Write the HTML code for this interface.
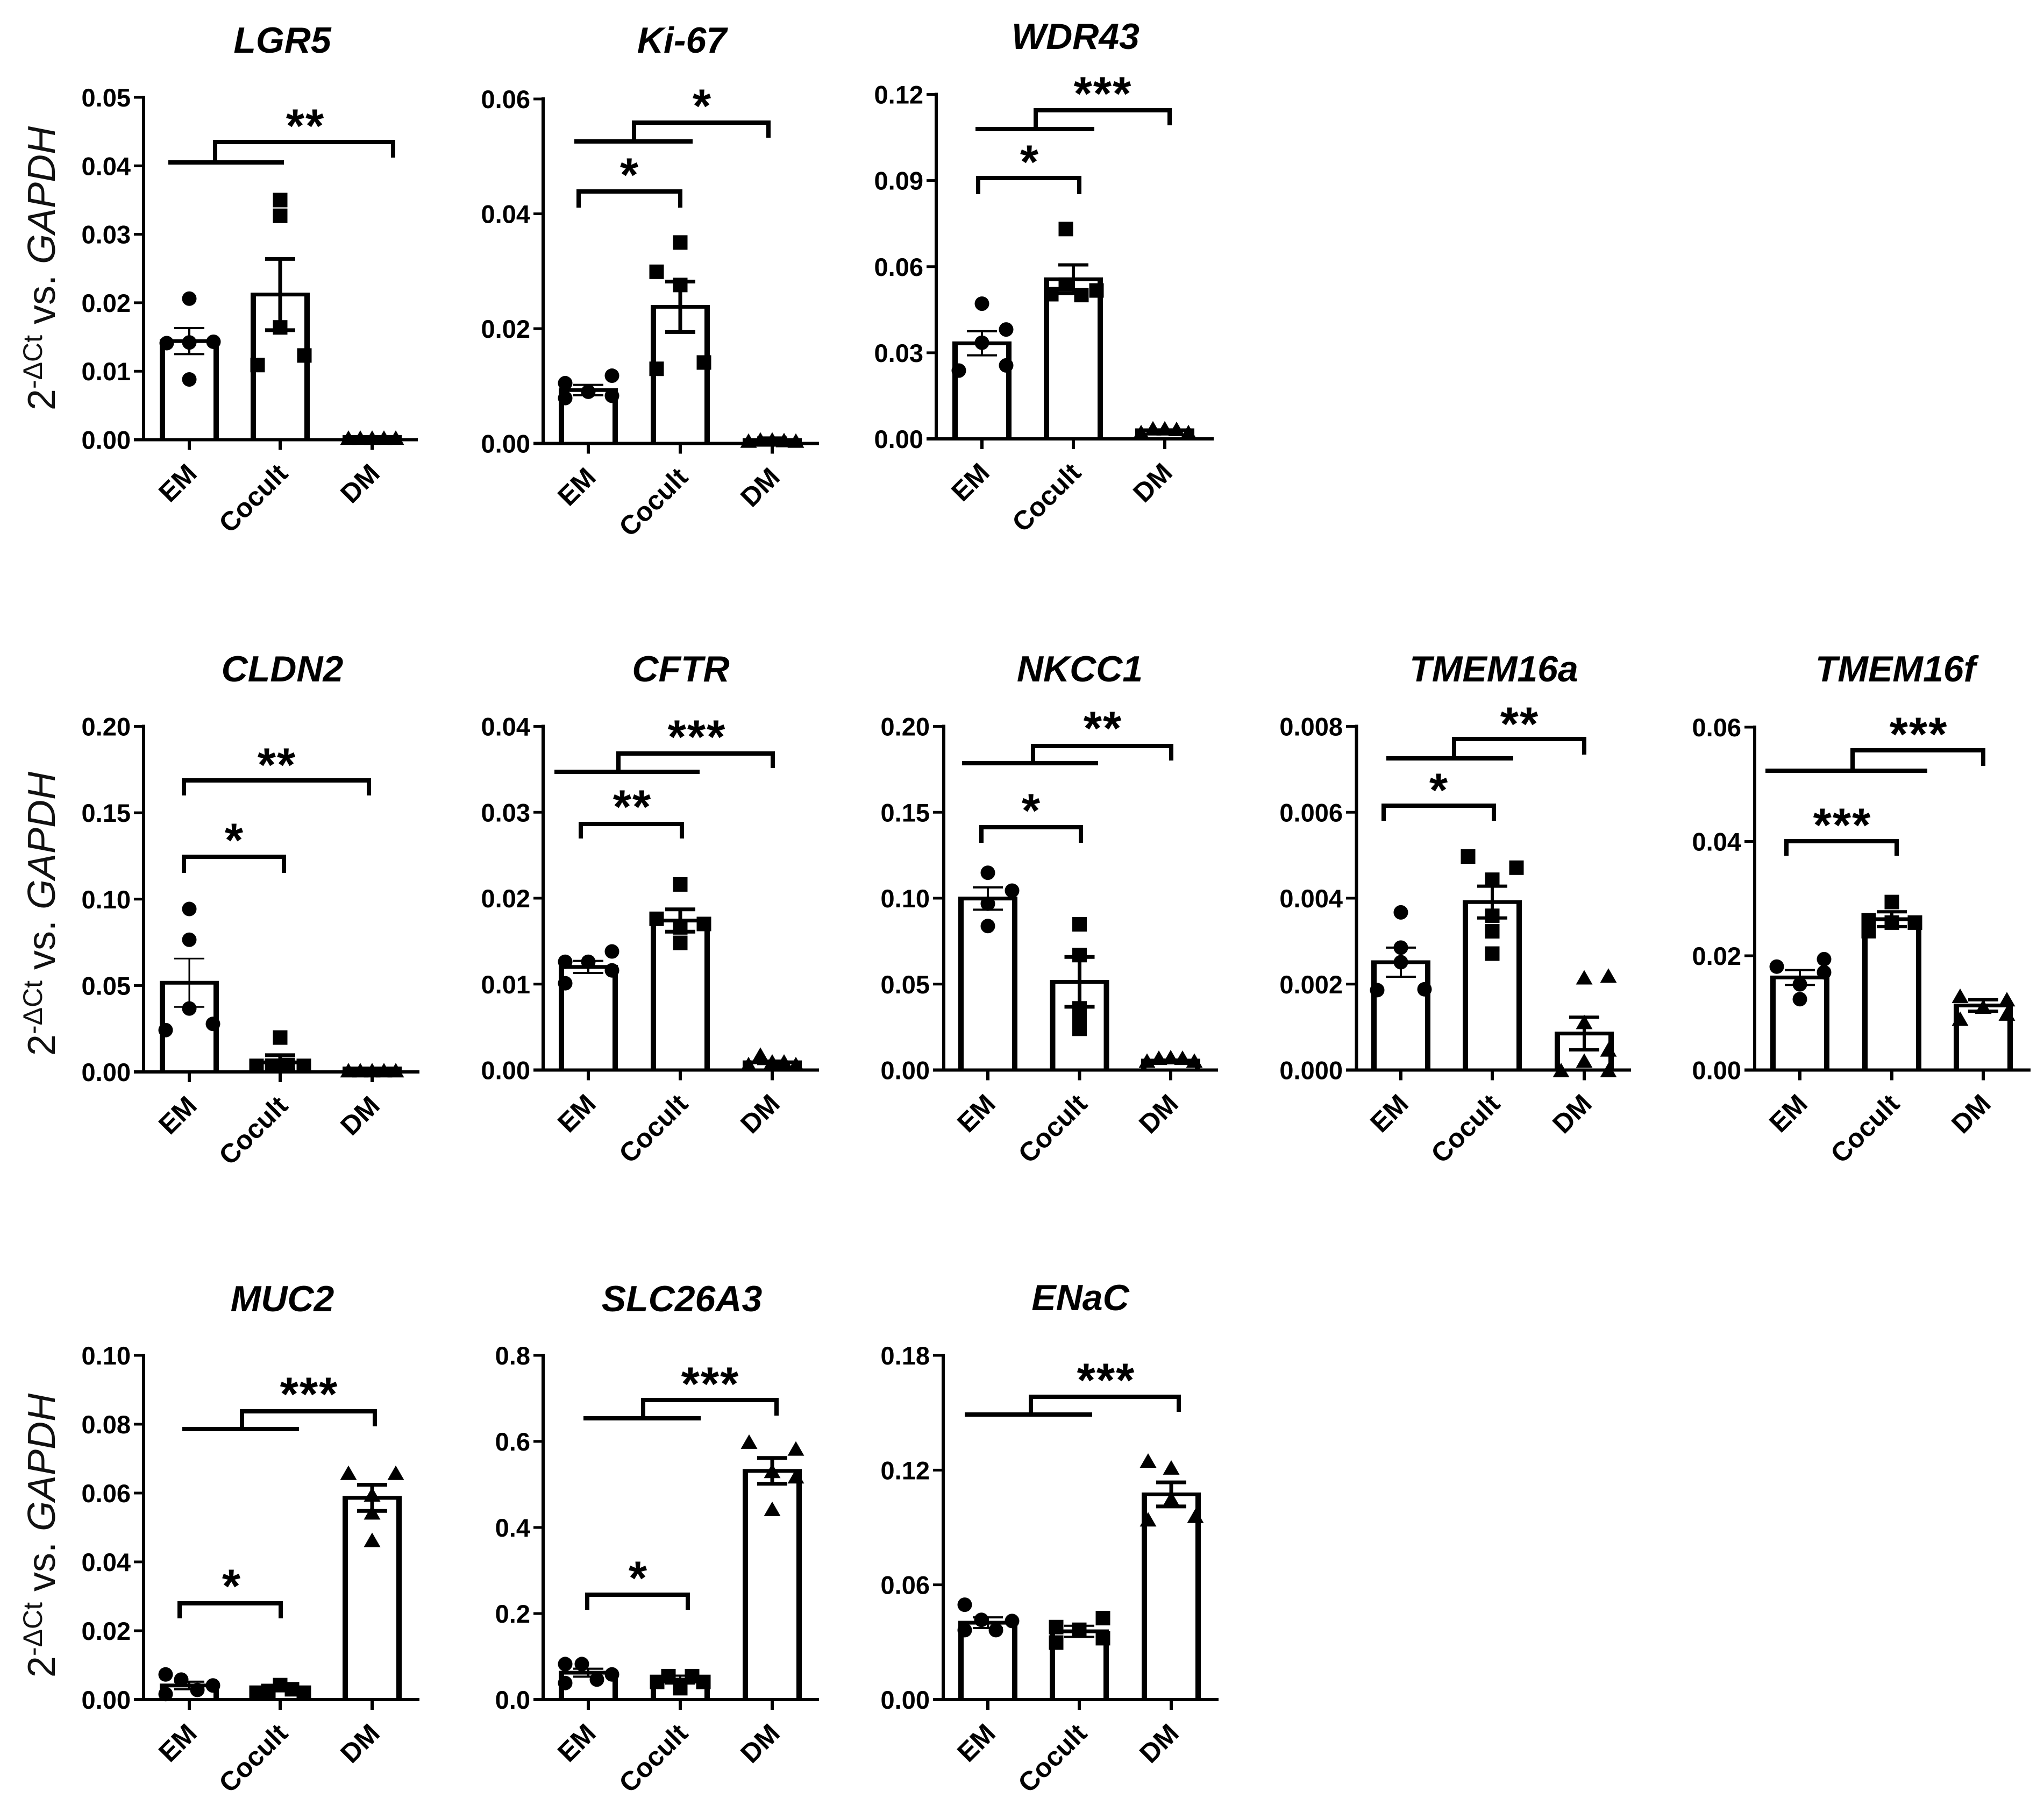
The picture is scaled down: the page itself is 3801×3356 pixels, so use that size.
<!DOCTYPE html>
<html lang="en">
<head>
<meta charset="utf-8">
<title>Gene expression panels</title>
<style>
html,body{margin:0;padding:0;background:#fff;}
svg{display:block;}
text{font-family:"Liberation Sans",sans-serif;fill:#000;}
.title{font-size:68px;font-weight:bold;font-style:italic;text-anchor:middle;}
.ytitle{font-size:72px;text-anchor:middle;fill:#111;}
.star{font-size:88px;font-weight:bold;text-anchor:middle;letter-spacing:2px;transform:translateY(-10px);}
.br{fill:none;stroke:#000;stroke-width:8;stroke-linejoin:miter;}
.tick-label{font-size:47px;font-weight:bold;text-anchor:end;}
.cat-label{font-size:50px;font-weight:bold;text-anchor:end;}
</style>
</head>
<body>
<svg id="figure" xmlns="http://www.w3.org/2000/svg" width="3801" height="3356" viewBox="0 0 3801 3356">
<rect width="3801" height="3356" fill="#fff"/>

<g>
<text class="title" x="525" y="98">LGR5</text>
<text class="title" x="1268" y="98">Ki-67</text>
<text class="title" x="2000" y="91">WDR43</text>
<text class="title" x="525" y="1267">CLDN2</text>
<text class="title" x="1266" y="1267">CFTR</text>
<text class="title" x="2008" y="1267">NKCC1</text>
<text class="title" x="2778" y="1267">TMEM16a</text>
<text class="title" x="3525" y="1267">TMEM16f</text>
<text class="title" x="525" y="2438">MUC2</text>
<text class="title" x="1268" y="2438">SLC26A3</text>
<text class="title" x="2009" y="2436">ENaC</text>
</g>

<g>
<text class="ytitle" transform="translate(102,499) rotate(-90)">2<tspan font-size="50" dy="-24">-ΔCt</tspan><tspan dy="24"> vs. </tspan><tspan font-style="italic">GAPDH</tspan></text>
<text class="ytitle" transform="translate(102,1699) rotate(-90)">2<tspan font-size="50" dy="-24">-ΔCt</tspan><tspan dy="24"> vs. </tspan><tspan font-style="italic">GAPDH</tspan></text>
<text class="ytitle" transform="translate(102,2855) rotate(-90)">2<tspan font-size="50" dy="-24">-ΔCt</tspan><tspan dy="24"> vs. </tspan><tspan font-style="italic">GAPDH</tspan></text>
</g>

<g id="charts"></g>

<g>
<g>
<line class="br" x1="313" y1="302" x2="528" y2="302"/>
<polyline class="br" points="400,302 400,264 731,264 731,293"/>
<text class="star" x="568" y="274">**</text>
</g>
<g>
<line class="br" x1="1068" y1="263" x2="1288" y2="263"/>
<polyline class="br" points="1179,263 1179,228 1429,228 1429,256"/>
<text class="star" x="1306" y="237">*</text>
<polyline class="br" points="1076,386 1076,356 1265,356 1265,386"/>
<text class="star" x="1171" y="365">*</text>
</g>
<g>
<line class="br" x1="1814" y1="240" x2="2035" y2="240"/>
<polyline class="br" points="1926,240 1926,205 2175,205 2175,233"/>
<text class="star" x="2051" y="214">***</text>
<polyline class="br" points="1819,361 1819,331 2007,331 2007,361"/>
<text class="star" x="1915" y="341">*</text>
</g>
<g>
<polyline class="br" points="342,1479 342,1451 686,1451 686,1479"/>
<text class="star" x="515" y="1462">**</text>
<polyline class="br" points="342,1623 342,1593 528,1593 528,1623"/>
<text class="star" x="436" y="1602">*</text>
</g>
<g>
<line class="br" x1="1031" y1="1435" x2="1301" y2="1435"/>
<polyline class="br" points="1150,1435 1150,1401 1437,1401 1437,1428"/>
<text class="star" x="1296" y="1410">***</text>
<polyline class="br" points="1080,1559 1080,1532 1268,1532 1268,1559"/>
<text class="star" x="1176" y="1540">**</text>
</g>
<g>
<line class="br" x1="1789" y1="1419" x2="2042" y2="1419"/>
<polyline class="br" points="1921,1419 1921,1387 2178,1387 2178,1414"/>
<text class="star" x="2051" y="1394">**</text>
<polyline class="br" points="1825,1567 1825,1538 2010,1538 2010,1567"/>
<text class="star" x="1918" y="1547">*</text>
</g>
<g>
<line class="br" x1="2578" y1="1410" x2="2814" y2="1410"/>
<polyline class="br" points="2704,1410 2704,1374 2946,1374 2946,1403"/>
<text class="star" x="2826" y="1386">**</text>
<polyline class="br" points="2573,1526 2573,1498 2778,1498 2778,1526"/>
<text class="star" x="2676" y="1509">*</text>
</g>
<g>
<line class="br" x1="3283" y1="1433" x2="3584" y2="1433"/>
<polyline class="br" points="3445,1433 3445,1395 3688,1395 3688,1424"/>
<text class="star" x="3568" y="1405">***</text>
<polyline class="br" points="3322,1591 3322,1564 3527,1564 3527,1591"/>
<text class="star" x="3426" y="1574">***</text>
</g>
<g>
<line class="br" x1="339" y1="2657" x2="556" y2="2657"/>
<polyline class="br" points="450,2657 450,2624 697,2624 697,2652"/>
<text class="star" x="575" y="2632">***</text>
<polyline class="br" points="334,3009 334,2981 522,2981 522,3009"/>
<text class="star" x="431" y="2989">*</text>
</g>
<g>
<line class="br" x1="1085" y1="2637" x2="1303" y2="2637"/>
<polyline class="br" points="1196,2637 1196,2603 1444,2603 1444,2632"/>
<text class="star" x="1321" y="2613">***</text>
<polyline class="br" points="1092,2993 1092,2965 1279,2965 1279,2993"/>
<text class="star" x="1187" y="2974">*</text>
</g>
<g>
<line class="br" x1="1794" y1="2630" x2="2031" y2="2630"/>
<polyline class="br" points="1917,2630 1917,2597 2192,2597 2192,2625"/>
<text class="star" x="2057" y="2606">***</text>
</g>
</g>
</svg>

<script>
const categories = ['EM', 'Cocult', 'DM'];

const lgr5Ticks = ['0.00', '0.01', '0.02', '0.03', '0.04', '0.05'];
const lgr5Means = [0.0144, 0.0212, 0.0004];
const lgr5Sems = [0.0019, 0.0052, 0.0001];
const lgr5Points = [[0.0206, 0.0143, 0.0142, 0.0141, 0.0088], [0.035, 0.0327, 0.0164, 0.0123, 0.0109], [0.0003, 0.0003, 0.0003, 0.0003, 0.0003]];

const ki67Ticks = ['0.00', '0.02', '0.04', '0.06'];
const ki67Means = [0.0093, 0.0238, 0.0006];
const ki67Sems = [0.0009, 0.0044, 0.0004];
const ki67Points = [[0.009, 0.0118, 0.0105, 0.0083, 0.0079], [0.035, 0.0299, 0.0276, 0.0141, 0.013], [0.0005, 0.0007, 0.0007, 0.0006, 0.0005]];

const wdr43Ticks = ['0.00', '0.03', '0.06', '0.09', '0.12'];
const wdr43Means = [0.0333, 0.0556, 0.003];
const wdr43Sems = [0.0042, 0.005, 0.0003];
const wdr43Points = [[0.0471, 0.0381, 0.0335, 0.0256, 0.0238], [0.0731, 0.0537, 0.0504, 0.0501, 0.0517], [0.0024, 0.0037, 0.0037, 0.0035, 0.0024]];

const cldn2Ticks = ['0.00', '0.05', '0.10', '0.15', '0.20'];
const cldn2Means = [0.0516, 0.0055, 0.002];
const cldn2Sems = [0.014, 0.0042, 0.0003];
const cldn2Points = [[0.0943, 0.0765, 0.0367, 0.0278, 0.0242], [0.0199, 0.0035, 0.0036, 0.004, 0.0035], [0.001, 0.001, 0.001, 0.001, 0.001]];

const cftrTicks = ['0.00', '0.01', '0.02', '0.03', '0.04'];
const cftrMeans = [0.012, 0.0174, 0.0009];
const cftrSems = [0.0007, 0.0013, 0.0002];
const cftrPoints = [[0.0126, 0.0138, 0.0126, 0.0116, 0.0101], [0.0216, 0.0176, 0.017, 0.0166, 0.0148], [0.0007, 0.0018, 0.001, 0.001, 0.0007]];

const nkcc1Ticks = ['0.00', '0.05', '0.10', '0.15', '0.20'];
const nkcc1Means = [0.0998, 0.0513, 0.0055];
const nkcc1Sems = [0.0065, 0.0145, 0.0006];
const nkcc1Points = [[0.1148, 0.1044, 0.0968, 0.0838], [0.0848, 0.0669, 0.0359, 0.03, 0.024], [0.0055, 0.0072, 0.0075, 0.0072, 0.0055]];

const tmem16aTicks = ['0.000', '0.002', '0.004', '0.006', '0.008'];
const tmem16aMeans = [0.00251, 0.00391, 0.00085];
const tmem16aSems = [0.00034, 0.00037, 0.00038];
const tmem16aPoints = [[0.00367, 0.00285, 0.00251, 0.00188, 0.00186], [0.00497, 0.00471, 0.00443, 0.00359, 0.00323, 0.00271], [0.00216, 0.0022, 0.00112, 0.00022, 0.0, 0.00048, 0.0]];

const tmem16fTicks = ['0.00', '0.02', '0.04', '0.06'];
const tmem16fMeans = [0.0162, 0.0264, 0.0113];
const tmem16fSems = [0.0013, 0.0013, 0.001];
const tmem16fPoints = [[0.0194, 0.0181, 0.0171, 0.015, 0.0124], [0.0294, 0.0262, 0.0243, 0.0258, 0.0258], [0.013, 0.0124, 0.0111, 0.0099, 0.009]];

const muc2Ticks = ['0.00', '0.02', '0.04', '0.06', '0.08', '0.10'];
const muc2Means = [0.0041, 0.0031, 0.0586];
const muc2Sems = [0.0011, 0.0005, 0.0038];
const muc2Points = [[0.0073, 0.0058, 0.0041, 0.0028, 0.0016], [0.002, 0.0025, 0.0042, 0.003, 0.002], [0.0659, 0.0659, 0.0596, 0.0544, 0.0464]];

const slc26a3Ticks = ['0.0', '0.2', '0.4', '0.6', '0.8'];
const slc26a3Means = [0.0625, 0.0465, 0.5315];
const slc26a3Sems = [0.0092, 0.0092, 0.03];
const slc26a3Points = [[0.0826, 0.0826, 0.0585, 0.0465, 0.0385], [0.0545, 0.0545, 0.041, 0.041, 0.0265], [0.5996, 0.5836, 0.5315, 0.519, 0.4433]];

const enacTicks = ['0.00', '0.06', '0.12', '0.18'];
const enacMeans = [0.0402, 0.0357, 0.1073];
const enacSems = [0.0028, 0.0029, 0.0063];
const enacPoints = [[0.0496, 0.0417, 0.0411, 0.0363, 0.0363], [0.0426, 0.0379, 0.0365, 0.0321, 0.0298], [0.125, 0.1214, 0.1051, 0.0961, 0.0943]];

/* Layout of each panel (pixels), kept apart from the data above */
const spread5 = [-44, -22, 0, 22, 44];
const panels = [
  {id: 'lgr5', axisX: 267, top: 181, zero: 817.5, left: 249, right: 777, centers: [352, 521, 692], ticks: lgr5Ticks, means: lgr5Means, sems: lgr5Sems, points: lgr5Points, errW: [4, 7, 4],
   jitter: [[0, 45, 0, -42, 0], [0, 0, 0, 45, -42], spread5]},
  {id: 'ki67', axisX: 1010, top: 184, zero: 824.5, left: 992, right: 1523, centers: [1094, 1265, 1436], ticks: ki67Ticks, means: ki67Means, sems: ki67Sems, points: ki67Points, errW: [4, 7, 5],
   jitter: [[0, 44, -43, 44, -43], [0, -44, 0, 44, -44], spread5]},
  {id: 'wdr43', axisX: 1741, top: 175.5, zero: 816, left: 1723, right: 2257, centers: [1826, 1996, 2166], ticks: wdr43Ticks, means: wdr43Means, sems: wdr43Sems, points: wdr43Points, errW: [4, 6, 4],
   jitter: [[0, 45, 0, 45, -43], [-14, -14, -41, 15, 43], spread5]},
  {id: 'cldn2', axisX: 267, top: 1350.5, zero: 1993, left: 249, right: 780, centers: [352, 521, 692], ticks: cldn2Ticks, means: cldn2Means, sems: cldn2Sems, points: cldn2Points, errW: [3, 7, 4],
   jitter: [[0, 0, 0, 44, -44], [0, -44, -15, 14, 44], spread5]},
  {id: 'cftr', axisX: 1010, top: 1350.5, zero: 1989.5, left: 992, right: 1523, centers: [1094, 1265, 1436], ticks: cftrTicks, means: cftrMeans, sems: cftrSems, points: cftrPoints, errW: [4, 7, 4],
   jitter: [[0, 44, -43, 44, -43], [0, -44, 44, 0, 0], [-44, -22, 0, 22, 44]]},
  {id: 'nkcc1', axisX: 1755, top: 1350.5, zero: 1989.5, left: 1735, right: 2265, centers: [1837, 2007.5, 2177], ticks: nkcc1Ticks, means: nkcc1Means, sems: nkcc1Sems, points: nkcc1Points, errW: [4, 7, 4],
   jitter: [[0, 45, 0, 0], [0, 0, 0, 0, 0], spread5]},
  {id: 'tmem16a', axisX: 2522.5, top: 1350.5, zero: 1989.5, left: 2503, right: 3033, centers: [2605, 2775, 2946], ticks: tmem16aTicks, means: tmem16aMeans, sems: tmem16aSems, points: tmem16aPoints, errW: [4, 6, 6],
   jitter: [[0, 0, 0, 44, -44], [-45, 45, 0, 0, 0, 0], [0, 45, 0, 0, -43, 45, 45]]},
  {id: 'tmem16f', axisX: 3263, top: 1352, zero: 1989.5, left: 3244, right: 3776, centers: [3347, 3518, 3688], ticks: tmem16fTicks, means: tmem16fMeans, sems: tmem16fSems, points: tmem16fPoints, errW: [4, 6, 6],
   jitter: [[45, -43, 45, 0, 0], [0, -43, -43, 43, 0], [-43, 44, 0, 44, -43]]},
  {id: 'muc2', axisX: 267, top: 2520, zero: 3160, left: 249, right: 780, centers: [352, 521, 692], ticks: muc2Ticks, means: muc2Means, sems: muc2Sems, points: muc2Points, errW: [4, 6, 7],
   jitter: [[-44, -15, 44, 15, -44], spread5, [-44, 44, 0, 0, 0]]},
  {id: 'slc26a3', axisX: 1010, top: 2520, zero: 3160, left: 992, right: 1523, centers: [1094, 1265, 1436], ticks: slc26a3Ticks, means: slc26a3Means, sems: slc26a3Sems, points: slc26a3Points, errW: [4, 4, 7],
   jitter: [[-43, -12, 44, 16, -43], [-22, 22, -43, 43, 0], [-43, 44, 0, 44, 0]]},
  {id: 'enac', axisX: 1754, top: 2520, zero: 3160, left: 1735, right: 2266, centers: [1837, 2007, 2178], ticks: enacTicks, means: enacMeans, sems: enacSems, points: enacPoints, errW: [4, 4, 7],
   jitter: [[-43, -12, 45, 15, -43], [44, -43, 0, 44, -43], [-43, 0, 0, 45, -43]]}
];

const NS = 'http://www.w3.org/2000/svg';
const BAR_OUTER = 55;
const BAR_WALL = 10;
const BAR_TOP = 7;
const CAP_HALF = 28;
const MARK = 13.5;

function make(tag, parent) {
  const el = document.createElementNS(NS, tag);
  parent.appendChild(el);
  return el;
}

function drawLine(parent, x1, y1, x2, y2, w) {
  const el = make('line', parent);
  el.setAttribute('x1', x1);
  el.setAttribute('y1', y1);
  el.setAttribute('x2', x2);
  el.setAttribute('y2', y2);
  el.setAttribute('stroke', '#000');
  el.setAttribute('stroke-width', w);
  return el;
}

function drawPoint(parent, groupIndex, cx, cy) {
  let el;
  if (groupIndex === 0) {
    el = make('circle', parent);
    el.setAttribute('cx', cx);
    el.setAttribute('cy', cy);
    el.setAttribute('r', MARK);
  } else if (groupIndex === 1) {
    el = make('rect', parent);
    el.setAttribute('x', cx - MARK);
    el.setAttribute('y', cy - MARK);
    el.setAttribute('width', MARK * 2);
    el.setAttribute('height', MARK * 2);
  } else {
    el = make('polygon', parent);
    el.setAttribute('points', (cx - MARK - 2) + ',' + (cy + MARK) + ' ' + (cx + MARK + 2) + ',' + (cy + MARK) + ' ' + cx + ',' + (cy - MARK));
  }
  el.setAttribute('fill', '#000');
  return el;
}

const root = document.getElementById('charts');

panels.forEach(function (p) {
  const g = make('g', root);
  
  

  const tickValues = p.ticks.map(parseFloat);
  const yMax = tickValues[tickValues.length - 1];
  const y = function (v) { return p.zero - (v / yMax) * (p.zero - p.top); };

  categories.forEach(function (cat, i) {
    const cx = p.centers[i];
    const barTop = y(p.means[i]) - BAR_TOP / 2;
    const bar = make('rect', g);
    
    
    bar.setAttribute('x', cx - BAR_OUTER);
    bar.setAttribute('y', barTop);
    bar.setAttribute('width', BAR_OUTER * 2);
    bar.setAttribute('height', Math.max(p.zero - barTop, 0));
    bar.setAttribute('fill', '#000');
    const inner = make('rect', g);
    
    
    inner.setAttribute('x', cx - BAR_OUTER + BAR_WALL);
    inner.setAttribute('y', barTop + BAR_TOP);
    inner.setAttribute('width', (BAR_OUTER - BAR_WALL) * 2);
    inner.setAttribute('height', Math.max(p.zero - barTop - BAR_TOP, 0));
    inner.setAttribute('fill', '#fff');
  });

  categories.forEach(function (cat, i) {
    const cx = p.centers[i];
    p.points[i].forEach(function (v, k) {
      const pt = drawPoint(g, i, cx + (p.jitter[i][k] || 0), y(v));
      
      
    });
    const up = y(p.means[i] + p.sems[i]);
    const dn = y(Math.max(p.means[i] - p.sems[i], 0));
    const stem = drawLine(g, cx, up, cx, dn, p.errW[i]);
    
    
    const capUp = drawLine(g, cx - CAP_HALF, up, cx + CAP_HALF, up, p.errW[i]);
    
    
    const capDn = drawLine(g, cx - CAP_HALF, dn, cx + CAP_HALF, dn, p.errW[i]);
    
    
  });

  const yAxis = drawLine(g, p.axisX, p.top - 3, p.axisX, p.zero + 3, 6);
  
  
  const xAxis = drawLine(g, p.left, p.zero, p.right, p.zero, 6);
  
  

  p.ticks.forEach(function (label, i) {
    const ty = y(tickValues[i]);
    const tick = drawLine(g, p.left, ty, p.axisX, ty, 5);
    
    
    const t = make('text', g);
    
    
    t.setAttribute('class', 'tick-label');
    t.setAttribute('x', p.left - 6);
    t.setAttribute('y', ty + 17);
    t.textContent = label;
  });

  categories.forEach(function (cat, i) {
    const cx = p.centers[i];
    const tick = drawLine(g, cx, p.zero, cx, p.zero + 19, 6);
    
    
    const t = make('text', g);
    
    
    t.setAttribute('class', 'cat-label');
    t.setAttribute('transform', 'translate(' + (cx + 17) + ',' + (p.zero + 66) + ') rotate(-45)');
    t.textContent = cat;
  });
});
</script>
</body>
</html>
